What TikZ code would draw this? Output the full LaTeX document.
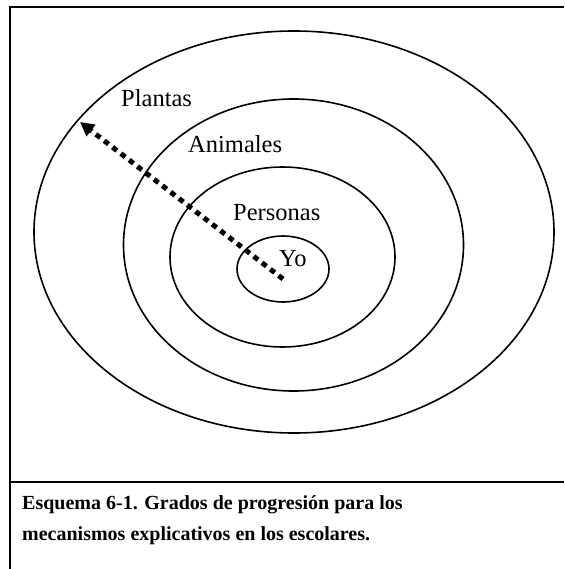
\documentclass[tikz,border=0pt]{standalone}
\usepackage{fontspec}
\setmainfont{Liberation Serif}
\usetikzlibrary{arrows.meta}
\begin{document}
\begin{tikzpicture}[x=1pt,y=-1pt,
  ring/.style={draw=black,line width=1.6pt},
  lbl/.style={inner sep=0pt,anchor=base west,font=\fontsize{24.5}{28}\selectfont},
  captext/.style={inner sep=0pt,anchor=base west,font=\fontsize{20}{23}\selectfont\bfseries},
  frame/.style={line width=2pt,draw=black},
  progress/.style={line width=5pt,dash pattern=on 5.5pt off 5pt,-{Triangle[length=14pt,width=14pt]}}]
\useasboundingbox (0,0) rectangle (564,569);
% frame
\coordinate (tl) at (10,7);
\coordinate (tr) at (564,7);
\coordinate (bl) at (10,569);
\coordinate (sl) at (10,481.5);
\coordinate (sr) at (564,481.5);
\draw[frame] (tr) -- (tl) -- (bl);
\draw[frame] (sl) -- (sr);
% ellipses
\draw[ring] (294,232) ellipse [x radius=260, y radius=201];
\draw[ring] (293.5,245) ellipse [x radius=170, y radius=146];
\draw[ring] (282.5,257) ellipse [x radius=112.5, y radius=90];
\draw[ring] (283,269) ellipse [x radius=46, y radius=33];
% labels
\node[lbl] (plantas) at (121,106.5) {Plantas};
\node[lbl] (animales) at (188,153) {Animales};
\node[lbl] (personas) at (233,220) {Personas};
\node[lbl] (yo) at (279,266) {Yo};
% arrow
\coordinate (start) at (283,279);
\coordinate (tip) at (80,122);
\draw[progress] (start) -- (tip);
% caption
\node[captext] (c1) at (22,509) {Esquema 6-1. Grados de progresión para los};
\node[captext] (c2) at (22,540) {mecanismos explicativos en los escolares.};
\end{tikzpicture}
\end{document}
